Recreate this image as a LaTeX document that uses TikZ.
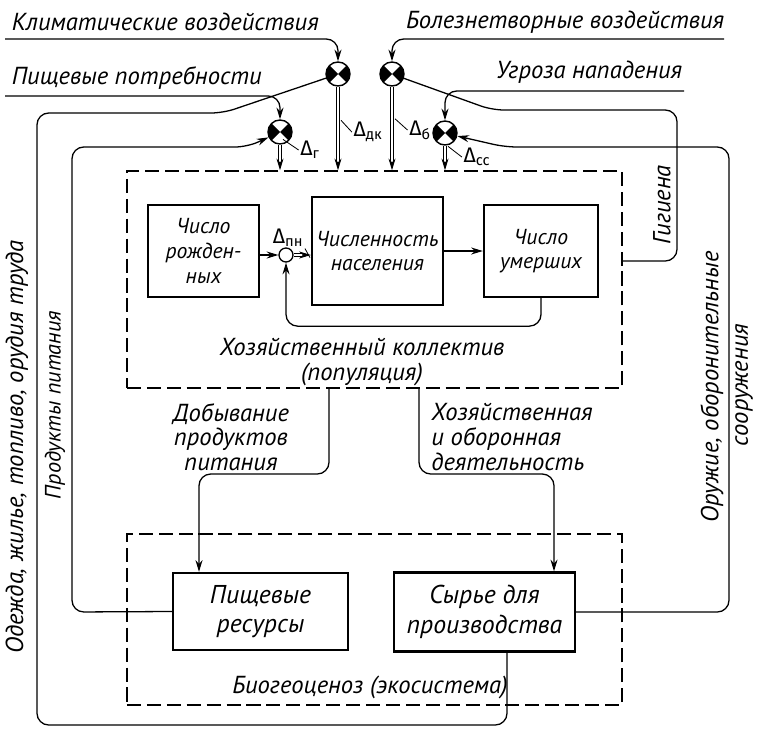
\documentclass[tikz,border=0pt]{standalone}
\usepackage{fontspec}
\setmainfont{PT Sans}
\newfontfamily\dltfont{Fira Sans}
\usepackage{tikz}
\usetikzlibrary{arrows.meta,calc,positioning}

\tikzset{
  blk/.style={draw,line width=2pt,align=center,inner sep=2pt,font=\itshape\fontsize{18.5}{21}\selectfont},
  resblk/.style={blk,font=\itshape\fontsize{22}{25}\selectfont},
  zone/.style={draw,line width=1.3pt,dash pattern=on 12pt off 5pt},
  lbl/.style={font=\itshape\fontsize{21}{21}\selectfont,inner sep=1pt},
  dlt/.style={font=\dltfont\fontsize{18}{20}\selectfont,inner sep=1pt},
  sumop/.style={circle,draw,line width=1.2pt,minimum size=0.72cm,inner sep=0pt,
    path picture={\fill (path picture bounding box.north west) -- (path picture bounding box.center) -- (path picture bounding box.south west) -- cycle;
      \fill (path picture bounding box.north east) -- (path picture bounding box.center) -- (path picture bounding box.south east) -- cycle;}},
  dbl/.style={double,double distance=2.5pt,line width=0.8pt,-{Stealth[length=10pt,width=6pt]}},
}

\begin{document}
\begin{tikzpicture}[x=0.03cm,y=-0.03cm,>={Stealth[length=10pt,width=6pt]},line width=1.1pt]
\useasboundingbox (0,0) rectangle (764,729);

% zones and blocks
\node[zone,minimum width=14.85cm,minimum height=6.51cm] (pop) at (374.5,279.5) {};
\node[zone,minimum width=14.85cm,minimum height=5.13cm] (bio) at (374.5,619.5) {};
\node[blk,minimum width=3.33cm,minimum height=2.76cm] (rozhd) at (203.5,251) {Число\\рожден-\\ных};
\node[blk,minimum width=3.93cm,minimum height=3.24cm] (chisl) at (377.5,251) {Численность\\населения};
\node[blk,minimum width=3.42cm,minimum height=2.76cm] (umer) at (541,251) {Число\\умерших};
\node[resblk,minimum width=5.25cm,minimum height=2.31cm] (pishres) at (260.5,611.5) {Пищевые\\ресурсы};
\node[resblk,minimum width=5.43cm,minimum height=2.37cm] (syrye) at (484.5,612) {Сырье для\\производства};

% junctions
\node[sumop] (K) at (338,74) {};
\node[sumop] (B) at (392,74) {};
\node[sumop] (G) at (280,132) {};
\node[sumop] (CC) at (445,133) {};
\node[circle,draw,fill=white,minimum size=0.42cm,inner sep=0pt] (S) at (286,255) {};

% inputs from outside
\node[lbl,anchor=west] (klim) at (10,22) {Климатические воздействия};
\node[lbl,anchor=east] (bolez) at (726,22) {Болезнетворные воздействия};
\node[lbl,anchor=west] (pishp) at (10,78) {Пищевые потребности};
\node[lbl,anchor=east] (ugr) at (684,72) {Угроза нападения};
\coordinate (klim0) at (5,39);
\coordinate (bolez0) at (724,39);
\coordinate (pishp0) at (5,96);
\coordinate (ugr0) at (684,91);
\draw[->,rounded corners=10pt] (klim0) -| (K);
\draw[->,rounded corners=10pt] (bolez0) -| (B);
\draw[->,rounded corners=10pt] (pishp0) -| (G);
\draw[->,rounded corners=10pt] (ugr0) -| (CC);

\foreach \j in {K,B,G,CC} \draw[dbl] (\j) -- (\j |- pop.north);
\node[dlt] (dk) at (368,132) {Δ\textsubscript{дк}};
\node[dlt] (db) at (420,130) {Δ\textsubscript{б}};
\node[dlt] (dg) at (310,150) {Δ\textsubscript{г}};
\node[dlt] (dcc) at (477,157) {Δ\textsubscript{сс}};
\draw[line width=0.7pt] (dk.west) -- ($(K |- dk.north)+(3,0)$);
\draw[line width=0.7pt] (db.west) -- ($(B |- db.north)+(3,0)$);
\draw[line width=0.7pt] (dg.west) -- ($(G |- dg.north)+(3,0)$);
\draw[line width=0.7pt] (dcc.west) -- ($(CC |- dcc.north)+(3,0)$);

% population
\draw[->] (rozhd.east |- S) -- (S);
\draw[dbl] (S) -- (chisl.west |- S);
\draw[->] (chisl) -- (umer);
\draw[->,rounded corners=10pt] (umer.south) -- ++(0,28) -| (S);
\node[dlt] (dpn) at (288,238) {Δ\textsubscript{пн}};
\draw[line width=0.7pt] (dpn.south east) -- ++(5,9);
\node[lbl,align=center] (popt) at (362,362) {Хозяйственный коллектив\\(популяция)};

% to ecosystem
\draw[->,rounded corners=10pt] (pop.south -| 329,0) -- (329,474) -| (pishres.north -| 199,0);
\draw[->,rounded corners=10pt] (pop.south -| 419,0) -- (419,474) -| (syrye.north -| 554,0);
\node[lbl,align=center] (dob) at (231,437) {Добывание\\продуктов\\питания};
\node[lbl,align=left] (hoz) at (512,437) {Хозяйственная\\и оборонная\\деятельность};
\node[lbl] (biot) at (370,687) {Биогеоценоз (экосистема)};

% back to the junctions
\draw[rounded corners=10pt] (syrye.south -| 507,0) -- (507,725) -- (37,725) -- (37,113) -- (223,113) -- (K.199);
\node[lbl,rotate=90] (odezh) at (17,447) {Одежда, жилье, топливо, орудия труда};
\draw[->,rounded corners=10pt] (pishres.west) -- (72,612) -- (72,147) -- (247,147) -- (G.205);
\node[lbl,rotate=90,font=\itshape\fontsize{19}{19}\selectfont] (prod) at (55,405) {Продукты питания};
\draw[rounded corners=10pt] (pop.east |- 0,261) -- (677,261) -- (677,110) -- (492,110) -- (B.-20);
\node[lbl,rotate=90] (gig) at (662,205) {Гигиена};
\draw[->,rounded corners=10pt] (syrye.east) -- (729,612) -- (729,147) -- (505,147) -- (CC.-14);
\node[lbl,rotate=90] (oruzh) at (712,387) {Оружие, оборонительные};
\node[lbl,rotate=90] (sooruzh) at (744,385) {сооружения};
\end{tikzpicture}
\end{document}
